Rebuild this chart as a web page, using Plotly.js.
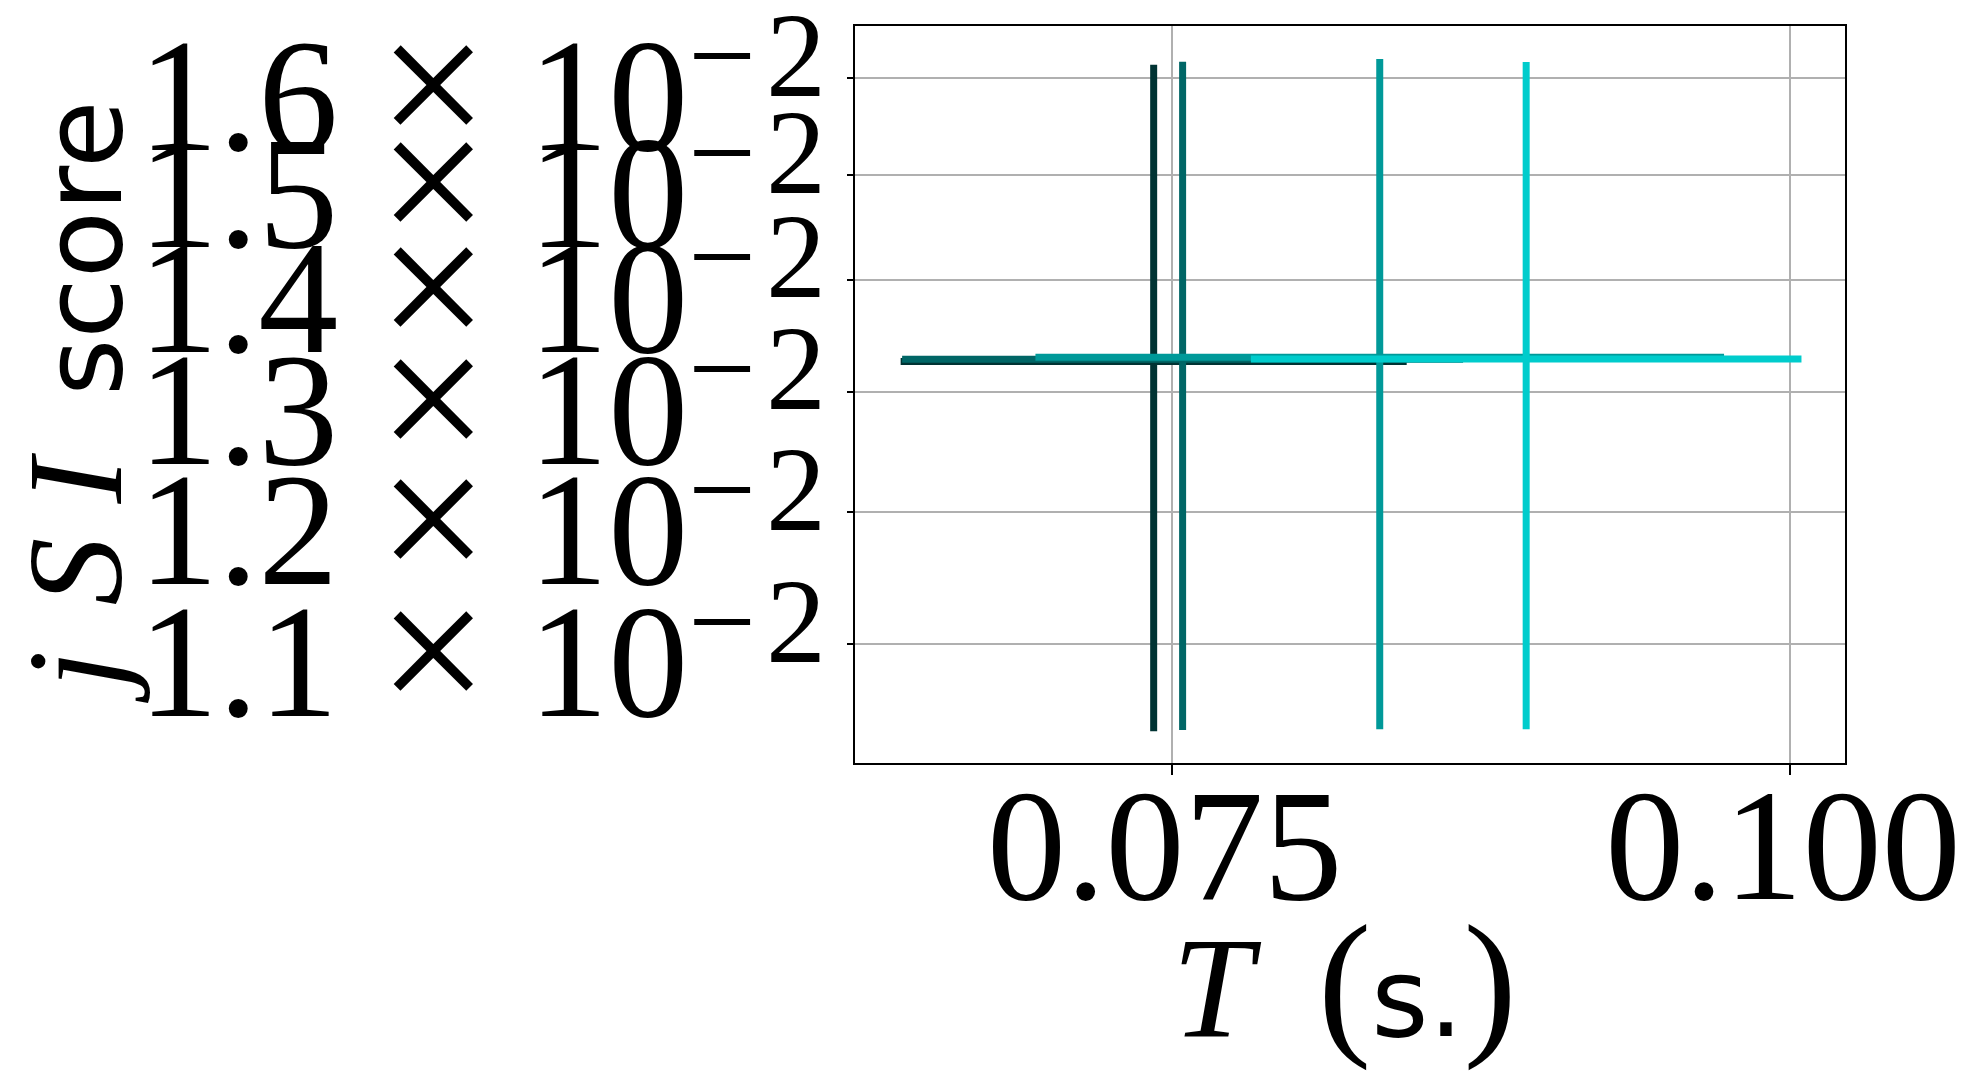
<!DOCTYPE html>
<html>
<head>
<meta charset="utf-8">
<script src="https://cdn.plot.ly/plotly-3.0.1.min.js"></script>
<style>
  html, body { margin: 0; padding: 0; background: #ffffff; }
  #chart { width: 1984px; height: 1090px; }
</style>
</head>
<body>
<div id="chart"></div>
<script>
// Period T (s.) of each run
var periodT = [0.07427, 0.07544, 0.08341, 0.08933];
var periodErr = [0.01023, 0.01134, 0.01392, 0.01113];
// jSI score of each run
var jsiScore = [0.013260, 0.013280, 0.013298, 0.013282];
var jsiErr = [0.002878, 0.002889, 0.002902, 0.002886];
var seriesColors = ['#003333', '#006666', '#009999', '#00cccc'];

// axis ticks
var yTickVals = [0.011, 0.012, 0.013, 0.014, 0.015, 0.016];
var yTickMantissa = ['1.1', '1.2', '1.3', '1.4', '1.5', '1.6'];
var yTickExponent = '−\u200a2';
var xTickVals = [0.075, 0.100];
var xTickText = ['0.075', '0.100'];

var yTickText = yTickMantissa.map(function (m) {
  return m + ' <span style="font-size:195px">×</span>\u00a010<sup><span style="font-size:120px;baseline-shift:-13px">' +
    yTickExponent + '</span></sup>';
});

var traces = periodT.map(function (t, i) {
  return {
    type: 'scatter',
    mode: 'markers',
    x: [t],
    y: [jsiScore[i]],
    marker: { size: 1, color: seriesColors[i], opacity: 0 },
    error_x: { type: 'data', array: [periodErr[i]], color: seriesColors[i], thickness: 7, width: 0 },
    error_y: { type: 'data', array: [jsiErr[i]], color: seriesColors[i], thickness: 7, width: 0 },
    showlegend: false,
    hoverinfo: 'x+y'
  };
});

var serif = 'Liberation Serif';
var layout = {
  width: 1984,
  height: 1090,
  paper_bgcolor: '#ffffff',
  plot_bgcolor: '#ffffff',
  margin: { l: 855, r: 139, t: 26, b: 327, pad: 0 },
  showlegend: false,
  xaxis: {
    range: [0.062195, 0.10222],
    tickvals: xTickVals,
    ticktext: xTickText,
    tickfont: { family: serif, size: 158, color: '#000000' },
    ticks: 'outside', ticklen: 10, tickwidth: 2, tickcolor: '#000000',
    ticklabelstandoff: -66,
    ticklabelshift: -7,
    ticklabeloverflow: 'allow',
    showgrid: true, gridcolor: '#b0b0b0', gridwidth: 2,
    zeroline: false,
    showline: true, linecolor: '#000000', linewidth: 2, mirror: true
  },
  yaxis: {
    type: 'log',
    range: [-1.99281, -1.78102],
    tickvals: yTickVals,
    ticktext: yTickText,
    tickfont: { family: serif, size: 160, color: '#000000' },
    ticks: 'outside', ticklen: 6, tickwidth: 2, tickcolor: '#000000',
    ticklabelstandoff: -11,
    ticklabelshift: 16,
    ticklabeloverflow: 'allow',
    showgrid: true, gridcolor: '#b0b0b0', gridwidth: 2,
    zeroline: false,
    showline: true, linecolor: '#000000', linewidth: 2, mirror: true,
    title: {
      text: '<span style="font-family:Liberation Serif;font-size:136px"><i>j\u00a0\u200aS\u00a0I</i>\u2009</span><span style="font-size:110px"> score</span>',
      font: { family: 'DejaVu Sans', size: 110, color: '#000000' },
      standoff: 13
    }
  },
  annotations: [{
    // x-axis title
    text: '<span style="font-size:145px"><i>T</i>\u00a0\u2009</span><span style="font-size:160px">(</span><span style="font-family:DejaVu Sans;font-size:110px">s.</span><span style="font-size:160px">)</span>',
    font: { family: serif, size: 125, color: '#000000' },
    xref: 'paper', yref: 'paper',
    x: 0.5, y: 0,
    xanchor: 'center', yanchor: 'top',
    xshift: -6, yshift: -128,
    showarrow: false
  }]
};

Plotly.newPlot('chart', traces, layout, { displayModeBar: false, staticPlot: true });
</script>
</body>
</html>
